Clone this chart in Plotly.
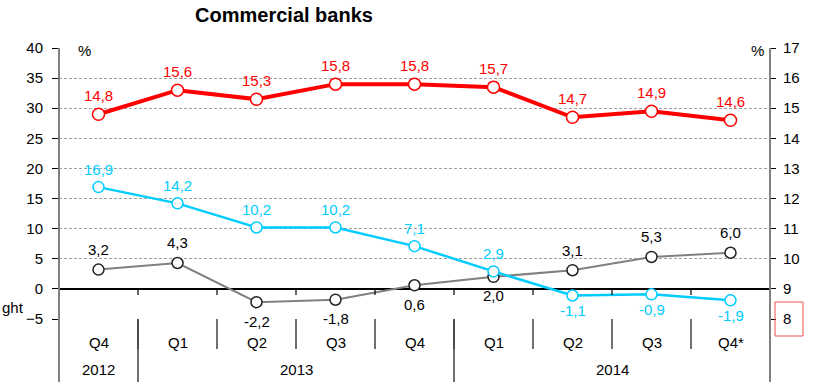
import plotly.graph_objects as go

# Quarterly series (per cent)
quarters = ["Q4", "Q1", "Q2", "Q3", "Q4", "Q1", "Q2", "Q3", "Q4*"]
years = ["2012", "2013", "2014"]
year_spans = [1, 4, 4]
red_vals = [14.8, 15.6, 15.3, 15.8, 15.8, 15.7, 14.7, 14.9, 14.6]   # right axis
blue_vals = [16.9, 14.2, 10.2, 10.2, 7.1, 2.9, -1.1, -0.9, -1.9]    # left axis
gray_vals = [3.2, 4.3, -2.2, -1.8, 0.6, 2.0, 3.1, 5.3, 6.0]         # left axis
left_ticks = [-5, 0, 5, 10, 15, 20, 25, 30, 35, 40]
right_ticks = [8, 9, 10, 11, 12, 13, 14, 15, 16, 17]

RED = "#FF0000"
BLUE = "#00CCFF"
GRAY = "#808080"
FONT = "Liberation Sans"

W, H = 817, 382
ML, MR, MT, MB = 59, 47, 48, 63
PW, PH = W - ML - MR, H - MT - MB


def px_x(px):
    return (px - ML) / PW


def px_y(py):
    return (H - MB - py) / PH


n = len(quarters)
xs = list(range(n))

fig = go.Figure()


def add_series(vals, color, width, msize, yaxis, edge=None):
    fig.add_trace(go.Scatter(
        x=xs, y=vals, yaxis=yaxis, mode="lines+markers",
        line=dict(color=color, width=width),
        marker=dict(size=msize, color="white",
                    line=dict(color=edge or color, width=1.5)),
        hoverinfo="skip", showlegend=False, cliponaxis=False,
    ))


add_series(gray_vals, GRAY, 2, 11, "y", edge="#222222")
add_series(blue_vals, BLUE, 2.5, 11, "y")
add_series(red_vals, RED, 4, 12, "y2")


def fmt(v):
    return f"{v:.1f}".replace(".", ",")


annotations = []


def add_labels(vals, color, yref, below_rule, up, down):
    for i, v in enumerate(vals):
        below = below_rule(v)
        annotations.append(dict(
            x=i, y=v, xref="x", yref=yref, text=fmt(v), showarrow=False,
            yshift=-down if below else up, yanchor="middle", xanchor="center",
            font=dict(family=FONT, size=15, color=color),
        ))


add_labels(red_vals, RED, "y2", lambda v: False, 19, 18)
add_labels(blue_vals, BLUE, "y", lambda v: v < 0, 18, 15)
add_labels(gray_vals, "#000000", "y", lambda v: v < 2.5, 20, 19)

# Category table beneath the plot: quarter row and year row
for i, q in enumerate(quarters):
    annotations.append(dict(
        x=i, y=px_y(342), xref="x", yref="paper", text=q, showarrow=False,
        yanchor="middle", font=dict(family=FONT, size=15, color="#000000"),
    ))
start = 0
for yr, span in zip(years, year_spans):
    annotations.append(dict(
        x=start + (span - 1) / 2, y=px_y(370), xref="x", yref="paper", text=yr,
        showarrow=False, yanchor="middle",
        font=dict(family=FONT, size=15, color="#000000"),
    ))
    start += span

# Unit labels and legend fragment at the left edge
annotations += [
    dict(x=px_x(84), y=px_y(51), xref="paper", yref="paper", text="%",
         xanchor="center", yanchor="middle", showarrow=False,
         font=dict(family=FONT, size=15, color="#000000")),
    dict(x=px_x(757), y=px_y(51), xref="paper", yref="paper", text="%",
         xanchor="center", yanchor="middle", showarrow=False,
         font=dict(family=FONT, size=15, color="#000000")),
    dict(x=px_x(0), y=px_y(307), xref="paper", yref="paper", text="ght",
         xanchor="left", yanchor="middle", showarrow=False,
         font=dict(family=FONT, size=15, color="#000000")),
]

shapes = []
bottom = px_y(H)
# Axis lines running down through the table
for xp in (0, 1):
    shapes.append(dict(type="line", xref="paper", yref="paper", x0=xp, x1=xp,
                       y0=1, y1=bottom, line=dict(color=GRAY, width=2)))
zero_frac = (0 - left_ticks[0]) / (left_ticks[-1] - left_ticks[0])
for k in range(1, n):
    xp = k / n
    # tick marks hanging from the zero line
    shapes.append(dict(type="line", xref="paper", yref="paper", x0=xp, x1=xp,
                       y0=zero_frac, y1=zero_frac - 6 / PH,
                       line=dict(color="#000000", width=1.2)))
    # quarter dividers
    shapes.append(dict(type="line", xref="paper", yref="paper", x0=xp, x1=xp,
                       y0=0, y1=px_y(349), line=dict(color="#404040", width=1.5)))
# year dividers
acc = 0
for span in year_spans[:-1]:
    acc += span
    shapes.append(dict(type="line", xref="paper", yref="paper", x0=acc / n, x1=acc / n,
                       y0=0, y1=bottom, line=dict(color="#404040", width=1.5)))
# highlight box around the lowest right-axis tick
shapes.append(dict(type="rect", xref="paper", yref="paper",
                   x0=px_x(775), x1=px_x(803), y0=px_y(302), y1=px_y(336),
                   line=dict(color="#F05050", width=1)))

fig.update_layout(
    width=W, height=H,
    margin=dict(l=ML, r=MR, t=MT, b=MB, pad=0),
    paper_bgcolor="white", plot_bgcolor="white",
    title=dict(text="<b>Commercial banks</b>", x=284 / W, y=1 - 15 / H,
               xanchor="center", yanchor="middle",
               font=dict(family=FONT, size=20, color="#000000")),
    xaxis=dict(range=[-0.5, n - 0.5], showticklabels=False, showgrid=False,
               showline=False, zeroline=False, ticks="", fixedrange=True),
    yaxis=dict(range=[left_ticks[0], left_ticks[-1]], tickvals=left_ticks,
               ticks="outside", ticklen=6, tickcolor="#000000", tickwidth=1,
               ticklabelstandoff=6,
               showline=False, showgrid=True, gridcolor="#A0A0A0", gridwidth=1,
               griddash="3px,2px",
               zeroline=True, zerolinecolor="#000000", zerolinewidth=1.5,
               tickfont=dict(family=FONT, size=15, color="#000000")),
    yaxis2=dict(range=[right_ticks[0], right_ticks[-1]], tickvals=right_ticks,
                overlaying="y", side="right", ticks="outside", ticklen=5,
                tickcolor="#000000", tickwidth=1, ticklabelstandoff=4,
                showline=False, showgrid=False, zeroline=False,
                tickfont=dict(family=FONT, size=15, color="#000000")),
    annotations=annotations,
    shapes=shapes,
    showlegend=False,
)

fig.write_html("out.html")
